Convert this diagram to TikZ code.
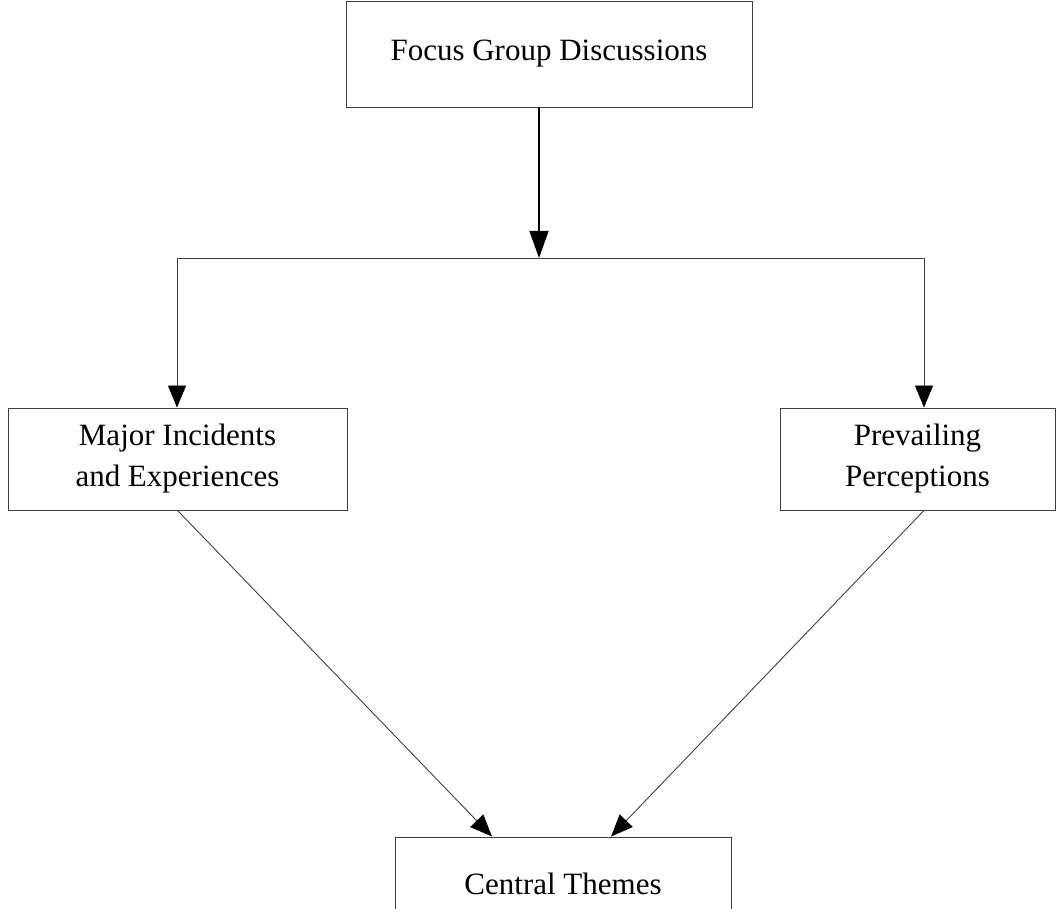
\documentclass[tikz,border=0pt]{standalone}
\usepackage{fontspec}
\setmainfont{Liberation Serif}
\usetikzlibrary{arrows.meta,positioning}

\begin{document}
\begin{tikzpicture}[
  x=1pt, y=-1pt,
  font=\fontsize{31}{41}\selectfont,
  box/.style={draw=black!75, line width=0.9pt, align=center, inner sep=0pt,
              minimum height=102pt},
  link/.style={->, draw=black!75, line width=0.9pt},
  >={Triangle[length=22pt, width=18pt, color=black]},
]
\useasboundingbox (0,0) rectangle (1058,909);
\clip (0,0) rectangle (1058,909);
\node[box, minimum width=406pt, minimum height=106pt] (fgd) at (549,54) {Focus Group Discussions};
\node[box, minimum width=339pt] (mie) at (177.5,459) {Major Incidents\\and Experiences};
\node[box, minimum width=275pt] (pp) at (917.5,459) {Prevailing\\Perceptions};
\node[box, minimum width=336pt, minimum height=140pt] (ct) at (563,907) {};
\node (ctlabel) at (563,884) {Central Themes};
% split line
\coordinate (split) at (539,258);
\coordinate (sl) at (177,258);
\coordinate (sr) at (924,258);
\draw[->, line width=1.4pt, >={Triangle[length=27pt, width=19pt]}] (fgd.south -| split) -- (split);
\draw[draw=black!75, line width=0.9pt] (sl) -- (sr);
\draw[link] (sl) -- (sl |- mie.north);
\draw[link] (sr) -- (sr |- pp.north);
% to central themes
\draw[link] (mie.south) -- ([xshift=-71pt]ct.north);
\draw[link] (sr |- pp.south) -- ([xshift=48pt]ct.north);
\end{tikzpicture}
\end{document}
